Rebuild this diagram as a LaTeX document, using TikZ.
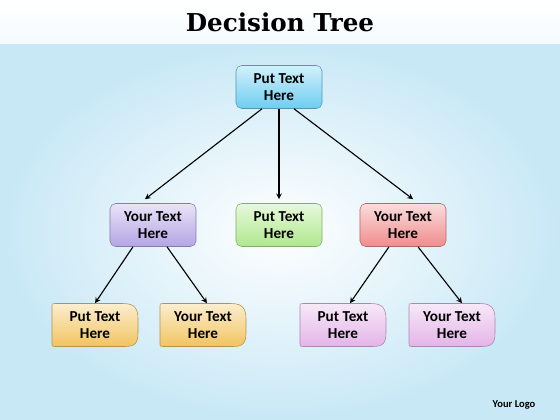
\documentclass[tikz,border=0pt]{standalone}
\usepackage{fontspec}
\setmainfont{Carlito}
\newfontfamily\titlefont{DejaVu Serif}
\definecolor{bgblue}{RGB}{200,232,246}
\definecolor{dtcyan}{RGB}{110,205,240}
\definecolor{dtlilac}{RGB}{180,165,228}
\definecolor{dtgreen}{RGB}{175,232,140}
\definecolor{dtred}{RGB}{240,140,140}
\definecolor{dtorange}{RGB}{242,196,96}
\definecolor{dtpink}{RGB}{228,180,232}
\usetikzlibrary{shapes,arrows,positioning,calc}

% leaf box: name, centre, colour, text
\newcommand{\leafnode}[4]{%
  \begin{scope}[shift={(#2)}]
    \shade[top color=#3!30, bottom color=#3, draw=#3!75!black, line width=0.4pt]
      (-43,-18) .. controls (-43,-21.5) .. (-40,-21.5) -- (28,-21.5)
      .. controls (40,-21.5) and (43,-16) .. (43,-6) -- (43,8)
      .. controls (43,18) and (40,21.5) .. (30,21.5) -- (-40,21.5)
      .. controls (-43,21.5) .. (-43,18) -- cycle;
  \end{scope}
  \node (#1) at (#2) {#4};
}

\begin{document}
\begin{tikzpicture}[x=0.025cm, y=-0.025cm,
    every node/.style={font=\bfseries\fontsize{10.8}{12.6}\selectfont, align=center},
    box/.style={draw=#1!75!black, top color=#1!30, bottom color=#1, rounded corners=4pt,
      minimum width=2.15cm, minimum height=1.075cm, inner sep=0pt, line width=0.4pt},
    arr/.style={-stealth, line width=0.8pt}]
    \useasboundingbox (0,0) rectangle (560,420);

    % Background
    \shade[inner color=white, outer color=bgblue] (0,42) rectangle (560,420);
    \shade[top color=white, bottom color=white!80!bgblue] (0,0) rectangle (560,44);

    % Title
    \node[font=\titlefont\bfseries\fontsize{17.5}{20}\selectfont] (title) at (280,22) {Decision Tree};

    % Root and middle level
    \node[box=dtcyan] (root) at (279,87) {Put Text\\Here};
    \node[box=dtlilac] (left) at (153,225) {Your Text\\Here};
    \node[box=dtgreen] (mid) at (279,225) {Put Text\\Here};
    \node[box=dtred] (right) at (403,225) {Your Text\\Here};

    % Leaves
    \leafnode{ll}{95,325}{dtorange}{Put Text\\Here}
    \leafnode{lr}{203,325}{dtorange}{Your Text\\Here}
    \leafnode{rl}{343,325}{dtpink}{Put Text\\Here}
    \leafnode{rr}{452,325}{dtpink}{Your Text\\Here}

    % Connectors
    \draw[arr] ($(root.south)+(-17,0)$) -- ($(left.north)+(-8,-4)$);
    \draw[arr] (root.south) -- ($(mid.north)+(0,-4)$);
    \draw[arr] ($(root.south)+(15,0)$) -- ($(right.north)+(10,-4)$);
    \draw[arr] ($(left.south)+(-20,0)$) -- ($(ll.north)+(0,-3)$);
    \draw[arr] ($(left.south)+(14,0)$) -- ($(lr.north)+(4,-3)$);
    \draw[arr] ($(right.south)+(-14,0)$) -- ($(rl.north)+(7,-3)$);
    \draw[arr] ($(right.south)+(15,0)$) -- ($(rr.north)+(10,-3)$);

    % Logo
    \node[font=\bfseries\fontsize{7.5}{9}\selectfont] (logo) at (514,405) {Your Logo};
\end{tikzpicture}
\end{document}
